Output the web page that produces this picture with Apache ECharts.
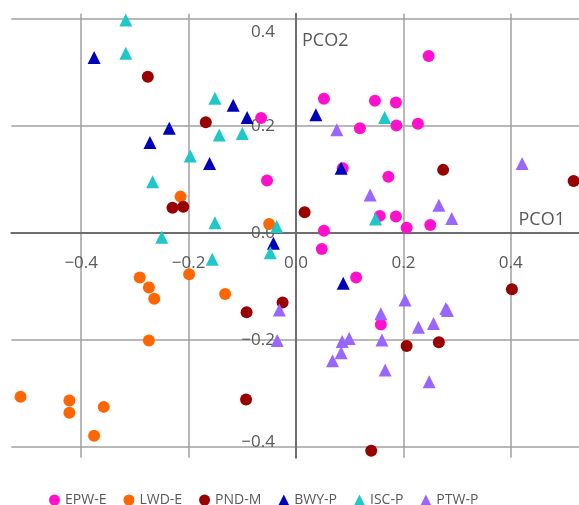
<!DOCTYPE html>
<html>
<head>
<meta charset="utf-8">
<script src="https://cdn.jsdelivr.net/npm/echarts@6/dist/echarts.min.js"></script>
<style>
  html, body { margin: 0; padding: 0; background: #fff; }
  #chart { width: 579px; height: 505px; }
</style>
</head>
<body>
<div id="chart"></div>
<script>
// tick labels
const xTicks = [-0.4, -0.2, 0, 0.2, 0.4]
const yTicks = [-0.4, -0.2, 0, 0.2, 0.4]

const seriesNames = ['EPW-E', 'LWD-E', 'PND-M', 'BWY-P', 'ISC-P', 'PTW-P']

// [PCO1, PCO2] per sample
const epwE = [
    [-0.065, 0.215], [-0.054, 0.098], [0.247, 0.331], [0.052, 0.251], [0.147, 0.247],
    [0.186, 0.244], [0.119, 0.196], [0.187, 0.201], [0.227, 0.204], [0.087, 0.121],
    [0.172, 0.105], [0.156, 0.032], [0.186, 0.031], [0.206, 0.010], [0.250, 0.015],
    [0.052, 0.004], [0.048, -0.030], [0.112, -0.083], [0.158, -0.171]
]
const lwdE = [
    [-0.215, 0.068], [-0.050, 0.017], [-0.199, -0.077], [-0.291, -0.083], [-0.274, -0.102],
    [-0.264, -0.123], [-0.132, -0.114], [-0.274, -0.201], [-0.513, -0.306], [-0.422, -0.313],
    [-0.422, -0.336], [-0.358, -0.325], [-0.376, -0.379]
]
const pndM = [
    [-0.276, 0.292], [-0.168, 0.207], [-0.230, 0.047], [-0.210, 0.049], [-0.025, -0.130],
    [-0.092, -0.148], [-0.093, -0.311], [0.274, 0.118], [0.517, 0.097], [0.016, 0.039],
    [0.402, -0.105], [0.206, -0.211], [0.266, -0.204], [0.140, -0.407]
]
const bwyP = [
    [-0.376, 0.328], [-0.117, 0.239], [-0.091, 0.216], [-0.236, 0.196], [-0.272, 0.169],
    [-0.161, 0.130], [-0.042, -0.019], [0.037, 0.221], [0.084, 0.121], [0.088, -0.094]
]
const iscP = [
    [-0.317, 0.398], [-0.317, 0.336], [-0.151, 0.252], [-0.143, 0.183], [-0.100, 0.186],
    [-0.197, 0.144], [-0.267, 0.096], [-0.151, 0.019], [-0.036, 0.012], [-0.250, -0.008],
    [-0.048, -0.037], [-0.156, -0.049], [0.165, 0.216], [0.148, 0.026]
]
const ptwP = [
    [-0.031, -0.144], [-0.035, -0.201], [0.076, 0.193], [0.421, 0.130], [0.138, 0.071],
    [0.266, 0.052], [0.290, 0.027], [0.203, -0.125], [0.279, -0.141], [0.282, -0.145],
    [0.158, -0.151], [0.228, -0.176], [0.256, -0.169], [0.160, -0.200], [0.086, -0.203],
    [0.099, -0.197], [0.084, -0.224], [0.068, -0.239], [0.166, -0.256], [0.248, -0.278]
]

const seriesData = [epwE, lwdE, pndM, bwyP, iscP, ptwP]
const colors = ['#ff11cc', '#ff6600', '#990000', '#0000bb', '#1ec8c8', '#9966ff']
const symbols = ['circle', 'circle', 'circle', 'triangle', 'triangle', 'triangle']

const fmt = (v) => (v < 0 ? '\u2212' : '') + Math.abs(v).toFixed(1)

// plot box, chosen so the value 0 lines sit at x=296 / y=233
const gridLeft = 11.4
const gridTop = 13.65
const gridBottom = 47.3
const zeroX = 296
const zeroY = 233

const myChart = echarts.init(document.getElementById('chart'))
myChart.setOption({
    animation: false,
    textStyle: { fontFamily: 'Open Sans' },
    grid: { left: gridLeft, right: -7, top: gridTop, bottom: gridBottom, outerBoundsMode: 'none' },
    legend: {
        data: seriesNames,
        left: 44,
        top: 488,
        itemWidth: 11,
        itemHeight: 11,
        itemGap: 17,
        textStyle: { fontSize: 14, color: '#595959' }
    },
    xAxis: {
        type: 'value',
        min: -0.53,
        max: 0.54,
        position: 'bottom',
        offset: -(505 - gridBottom - zeroY),
        name: 'PCO1',
        nameLocation: 'end',
        nameGap: -21,
        nameTextStyle: { fontSize: 18, color: '#595959', align: 'right', verticalAlign: 'bottom', lineHeight: 20, padding: [0, 0, 3, 0] },
        axisLine: { onZero: false, lineStyle: { color: '#6e6e6e', width: 2 } },
        axisTick: { show: false, customValues: xTicks },
        axisLabel: { customValues: xTicks, formatter: fmt, fontSize: 17, color: '#595959', margin: 22 },
        splitLine: { show: true, lineStyle: { color: '#a0a0a0', width: 1.5 } }
    },
    yAxis: {
        type: 'value',
        min: -0.42,
        max: 0.41,
        position: 'left',
        offset: -(zeroX - gridLeft),
        name: 'PCO2',
        nameLocation: 'end',
        nameGap: -27,
        nameTextStyle: { fontSize: 18, color: '#595959', align: 'left', verticalAlign: 'middle', padding: [0, 0, 0, 6] },
        axisLine: { onZero: false, lineStyle: { color: '#6e6e6e', width: 2 } },
        axisTick: { show: false, customValues: yTicks },
        axisLabel: {
            customValues: yTicks,
            fontSize: 17,
            color: '#595959',
            margin: 21,
            formatter: (v) => {
                if (v > 0.3) return '{top|' + fmt(v) + '}'
                if (v < -0.3) return '{bot|' + fmt(v) + '}'
                return fmt(v)
            },
            rich: {
                top: { fontSize: 17, color: '#595959', padding: [26, 0, 0, 0] },
                bot: { fontSize: 17, color: '#595959', padding: [0, 0, 10, 0] }
            }
        },
        splitLine: { show: true, lineStyle: { color: '#a0a0a0', width: 1.5 } }
    },
    series: seriesData.map((data, i) => ({
        name: seriesNames[i],
        type: 'scatter',
        data: data,
        symbol: symbols[i],
        symbolSize: symbols[i] === 'circle' ? 12 : 13,
        itemStyle: { color: colors[i], opacity: 1 }
    }))
})
</script>
</body>
</html>
